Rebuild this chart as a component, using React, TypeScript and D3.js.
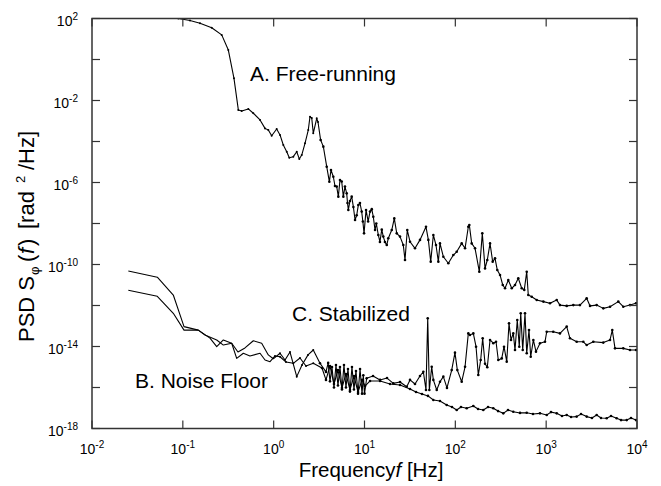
import React from "react";
import * as d3 from "d3";

// Data: [log10(frequency in Hz), log10(PSD in rad^2/Hz)]
const seriesA: [number, number][] = [
  [-1.05, 2.0], [-0.921, 1.9], [-0.811, 1.77], [-0.682, 1.55], [-0.572, 1.2], [-0.499, 0.46], [-0.437, -0.92],
  [-0.389, -2.46], [-0.352, -2.51], [-0.279, -2.41], [-0.224, -2.62], [-0.15, -2.95], [-0.095, -3.36], [-0.059, -3.44],
  [-0.022, -3.72], [0.033, -3.39], [0.07, -3.68], [0.106, -4.17], [0.144, -4.5], [0.172, -4.79], [0.216, -4.74],
  [0.254, -4.5], [0.282, -4.85], [0.309, -4.66], [0.345, -4.09], [0.381, -3.44], [0.4, -2.79], [0.419, -2.85],
  [0.436, -3.6], [0.474, -2.87], [0.488, -3.05], [0.517, -3.93], [0.547, -4.25], [0.584, -5.23], [0.613, -5.96],
  [0.631, -5.39], [0.657, -5.72], [0.675, -6.17], [0.694, -6.2], [0.712, -6.69], [0.73, -5.88], [0.749, -5.95],
  [0.767, -6.69], [0.785, -6.2], [0.804, -6.53], [0.813, -7.0], [0.822, -7.34], [0.84, -6.9], [0.859, -6.69],
  [0.878, -7.2], [0.896, -7.83], [0.914, -7.6], [0.932, -7.1], [0.95, -7.0], [0.969, -7.42], [0.982, -7.9],
  [0.995, -8.48], [1.017, -7.34], [1.04, -7.9], [1.061, -7.42], [1.08, -7.3], [1.097, -7.67], [1.116, -8.32],
  [1.13, -8.0], [1.152, -8.56], [1.17, -8.9], [1.19, -8.3], [1.207, -8.64], [1.225, -8.9],
  [1.245, -9.05], [1.262, -8.72], [1.3, -8.32], [1.328, -7.75], [1.355, -8.48], [1.391, -8.64], [1.427, -9.05],
  [1.446, -9.78], [1.471, -8.32], [1.501, -8.89], [1.556, -9.21], [1.611, -8.8], [1.677, -8.16], [1.703, -8.8],
  [1.729, -9.86], [1.758, -8.56], [1.787, -9.05], [1.813, -9.86], [1.831, -8.97], [1.868, -9.62], [1.923, -9.94],
  [1.978, -9.54], [2.015, -9.38], [2.07, -8.97], [2.107, -9.21], [2.143, -8.16], [2.154, -8.07], [2.18, -8.97],
  [2.217, -9.21], [2.264, -10.35], [2.297, -8.48], [2.327, -10.19], [2.352, -9.78], [2.382, -8.97], [2.411, -9.86],
  [2.437, -9.7], [2.462, -10.27], [2.492, -10.51], [2.522, -11.0], [2.547, -11.16], [2.583, -10.76], [2.621, -11.16],
  [2.657, -11.0], [2.693, -10.67], [2.731, -11.16], [2.759, -11.24], [2.786, -10.35], [2.803, -11.49], [2.841, -11.57],
  [2.896, -11.73], [2.969, -11.81], [3.042, -11.89], [3.116, -11.73], [3.152, -11.98], [3.226, -12.02], [3.299, -11.98],
  [3.372, -11.98], [3.446, -11.65], [3.483, -12.02], [3.556, -11.98], [3.629, -12.14], [3.703, -12.06], [3.794, -11.81],
  [3.849, -12.06], [3.923, -11.98], [3.989, -11.89],
];

const seriesB: [number, number][] = [
  [-1.6, -11.26], [-1.281, -11.55], [-1.105, -12.38], [-0.987, -13.2], [-0.83, -13.2], [-0.701, -13.59], [-0.627, -14.01],
  [-0.554, -13.68], [-0.462, -13.84], [-0.407, -14.58], [-0.334, -14.33], [-0.261, -14.46], [-0.15, -14.33], [-0.095, -14.66],
  [-0.04, -14.74], [0.015, -14.46], [0.07, -14.5], [0.136, -14.76], [0.216, -14.82], [0.29, -14.56], [0.356, -14.95],
  [0.436, -14.82], [0.532, -15.05], [0.576, -15.63], [0.62, -14.95], [0.664, -15.83], [0.708, -15.15], [0.752, -16.02],
  [0.796, -15.34], [0.84, -16.12], [0.884, -15.44], [0.929, -16.22], [0.973, -15.63], [1.006, -15.93], [1.061, -15.68],
  [1.171, -15.68], [1.281, -15.83], [1.391, -15.88], [1.501, -16.07], [1.567, -16.22], [1.633, -16.32], [1.699, -16.41],
  [1.758, -16.61], [1.831, -16.66], [1.905, -16.85], [1.963, -16.95], [2.015, -17.1], [2.062, -16.95], [2.125, -17.01],
  [2.198, -16.9], [2.25, -17.05], [2.308, -17.1], [2.36, -16.95], [2.418, -17.01], [2.47, -17.15], [2.528, -17.26],
  [2.58, -17.1], [2.638, -17.18], [2.712, -17.24], [2.786, -17.23], [2.855, -17.29], [2.932, -17.26], [3.006, -17.34],
  [3.053, -17.2], [3.116, -17.26], [3.174, -17.39], [3.226, -17.34], [3.274, -17.44], [3.336, -17.42], [3.384, -17.29],
  [3.446, -17.42], [3.504, -17.49], [3.556, -17.34], [3.604, -17.49], [3.666, -17.5], [3.714, -17.39], [3.776, -17.5],
  [3.824, -17.59], [3.887, -17.59], [3.934, -17.49], [3.989, -17.59],
];

const seriesC: [number, number][] = [
  [-1.6, -10.32], [-1.281, -10.62], [-1.105, -11.49], [-0.987, -13.03], [-0.83, -13.2], [-0.756, -13.44], [-0.627, -13.68],
  [-0.554, -13.93], [-0.462, -13.84], [-0.393, -14.27], [-0.316, -14.07], [-0.224, -13.72], [-0.132, -13.84], [-0.059, -14.41],
  [-0.004, -14.6], [0.07, -14.33], [0.125, -14.66], [0.18, -14.27], [0.254, -15.47], [0.312, -14.9], [0.378, -14.41],
  [0.436, -14.17], [0.51, -14.82], [0.576, -15.24], [0.6, -14.8], [0.62, -15.7], [0.642, -15.0], [0.664, -16.0],
  [0.686, -14.9], [0.708, -15.9], [0.73, -15.0], [0.752, -16.1], [0.774, -14.9], [0.796, -16.0], [0.818, -15.1],
  [0.84, -16.2], [0.862, -15.0], [0.884, -16.1], [0.906, -15.2], [0.929, -16.3], [0.951, -15.1], [0.973, -16.3],
  [0.987, -15.4], [1.0, -16.3], [1.024, -15.55], [1.094, -15.44],
  [1.171, -15.63], [1.248, -15.54], [1.317, -15.8], [1.391, -15.73], [1.465, -15.96], [1.501, -15.63], [1.556, -15.83],
  [1.611, -15.44], [1.648, -15.23], [1.677, -16.12], [1.696, -12.62], [1.714, -16.12], [1.74, -14.99], [1.758, -15.63],
  [1.795, -16.12], [1.831, -15.72], [1.868, -15.47], [1.908, -16.02], [1.96, -15.15], [1.996, -14.3], [2.022, -15.15],
  [2.07, -15.72], [2.107, -14.99], [2.143, -13.36], [2.161, -13.44], [2.198, -13.36], [2.228, -14.01], [2.253, -15.39],
  [2.279, -14.66], [2.301, -13.6], [2.327, -14.84], [2.352, -15.01], [2.382, -13.68], [2.418, -13.84], [2.448, -13.77],
  [2.473, -14.66], [2.511, -14.58], [2.536, -14.01], [2.566, -14.74], [2.591, -12.87], [2.613, -13.68], [2.638, -13.36],
  [2.657, -14.17], [2.682, -12.71], [2.704, -14.01], [2.72, -12.38], [2.742, -14.17], [2.767, -12.38], [2.786, -14.33],
  [2.811, -13.2], [2.83, -14.5], [2.859, -13.68], [2.888, -14.25], [2.932, -13.84], [2.987, -13.77], [3.006, -13.28],
  [3.078, -13.28], [3.152, -13.36], [3.226, -13.03], [3.262, -13.6], [3.336, -13.77], [3.409, -13.77], [3.446, -13.93],
  [3.519, -13.77], [3.629, -13.81], [3.703, -13.68], [3.728, -13.2], [3.758, -14.09], [3.849, -14.09], [3.923, -14.17],
  [3.989, -14.17],
];

const xTickExps = [-2, -1, 0, 1, 2, 3, 4];
const yTickExps = [2, 0, -2, -4, -6, -8, -10, -12, -14, -16, -18];
const yLabelExps = [2, -2, -6, -10, -14, -18];

const seriesLabels = [
  { text: "A. Free-running", lf: -0.26, ls: -1.05 },
  { text: "C. Stabilized", lf: 0.202, ls: -12.76 },
  { text: "B. Noise Floor", lf: -1.527, ls: -16.02 },
];

const W = 661;
const H = 486;
const FONT = "'Liberation Sans', Arial, Helvetica, sans-serif";

export default function App() {
  const x = d3.scaleLog().domain([1e-2, 1e4]).range([92, 637]);
  const y = d3.scaleLog().domain([1e-18, 1e2]).range([428.5, 18.5]);
  const [x0, x1] = x.range();
  const [y0, y1] = y.range();

  const line = d3
    .line<[number, number]>()
    .x((d) => x(Math.pow(10, d[0])))
    .y((d) => y(Math.pow(10, d[1])));

  const tickLen = 8;
  const all = [seriesA, seriesB, seriesC];

  return (
    <svg
      width={W}
      height={H}
      style={{ position: "absolute", left: 0, top: 0, background: "#fff" }}
      fontFamily={FONT}
    >
      <defs>
        <clipPath id="plotclip">
          <rect x={x0} y={y1} width={x1 - x0} height={y0 - y1} />
        </clipPath>
      </defs>

      <g clipPath="url(#plotclip)" fill="none" stroke="#000" strokeWidth={1.1}>
        {all.map((s, i) => (
          <path key={i} d={line(s) || ""} strokeLinejoin="round" />
        ))}
        {all.map((s, i) =>
          s
            .filter((d) => i === 0 || d[0] > 0)
            .map((d, j) => (
              <circle
                key={`${i}-${j}`}
                cx={x(Math.pow(10, d[0]))}
                cy={y(Math.pow(10, d[1]))}
                r={d[0] > 0.5 ? 1.3 : 1}
                fill="#000"
                stroke="none"
              />
            ))
        )}
      </g>

      {/* frame */}
      <rect x={x0} y={y1} width={x1 - x0} height={y0 - y1} fill="none" stroke="#333" strokeWidth={1.5} />

      {/* x ticks */}
      {xTickExps.map((e) => {
        const px = x(Math.pow(10, e));
        return (
          <g key={`xt${e}`} stroke="#333" strokeWidth={1.2}>
            <line x1={px} x2={px} y1={y0} y2={y0 - tickLen} />
            <line x1={px} x2={px} y1={y1} y2={y1 + tickLen} />
          </g>
        );
      })}
      {/* y ticks */}
      {yTickExps.map((e) => {
        const py = y(Math.pow(10, e));
        return (
          <g key={`yt${e}`} stroke="#333" strokeWidth={1.2}>
            <line x1={x0} x2={x0 + tickLen} y1={py} y2={py} />
            <line x1={x1} x2={x1 - tickLen} y1={py} y2={py} />
          </g>
        );
      })}

      {/* x tick labels */}
      {xTickExps.map((e) => (
        <text key={`xl${e}`} x={x(Math.pow(10, e))} y={454} fontSize={14} textAnchor="middle" fill="#000">
          10
          <tspan fontSize={10} dy={-6}>
            {String(e)}
          </tspan>
        </text>
      ))}
      {/* y tick labels */}
      {yLabelExps.map((e) => (
        <text key={`yl${e}`} x={78} y={y(Math.pow(10, e)) + 7} fontSize={14} textAnchor="end" fill="#000">
          10
          <tspan fontSize={10} dy={-6}>
            {String(e)}
          </tspan>
        </text>
      ))}

      {/* axis titles */}
      <text x={371} y={477} fontSize={20.5} textAnchor="middle" fill="#000">
        Frequency
        <tspan fontStyle="italic">f</tspan>
        <tspan> [Hz]</tspan>
      </text>
      <text transform={`translate(34, 342) rotate(-90)`} fontSize={22} fill="#000">
        <tspan x={0}>PSD S</tspan>
        <tspan x={67} fontSize={13} dy={5}>φ</tspan>
        <tspan x={80} dy={-5}>(</tspan>
        <tspan x={88} fontStyle="italic">f</tspan>
        <tspan x={96}>)</tspan>
        <tspan x={113}>[rad</tspan>
        <tspan x={159} fontSize={13} dy={-9}>2</tspan>
        <tspan x={172} dy={9}>/Hz]</tspan>
      </text>

      {/* series labels */}
      {seriesLabels.map((l) => (
        <text
          key={l.text}
          x={x(Math.pow(10, l.lf))}
          y={y(Math.pow(10, l.ls))}
          fontSize={21}
          fill="#000"
        >
          {l.text}
        </text>
      ))}
    </svg>
  );
}
